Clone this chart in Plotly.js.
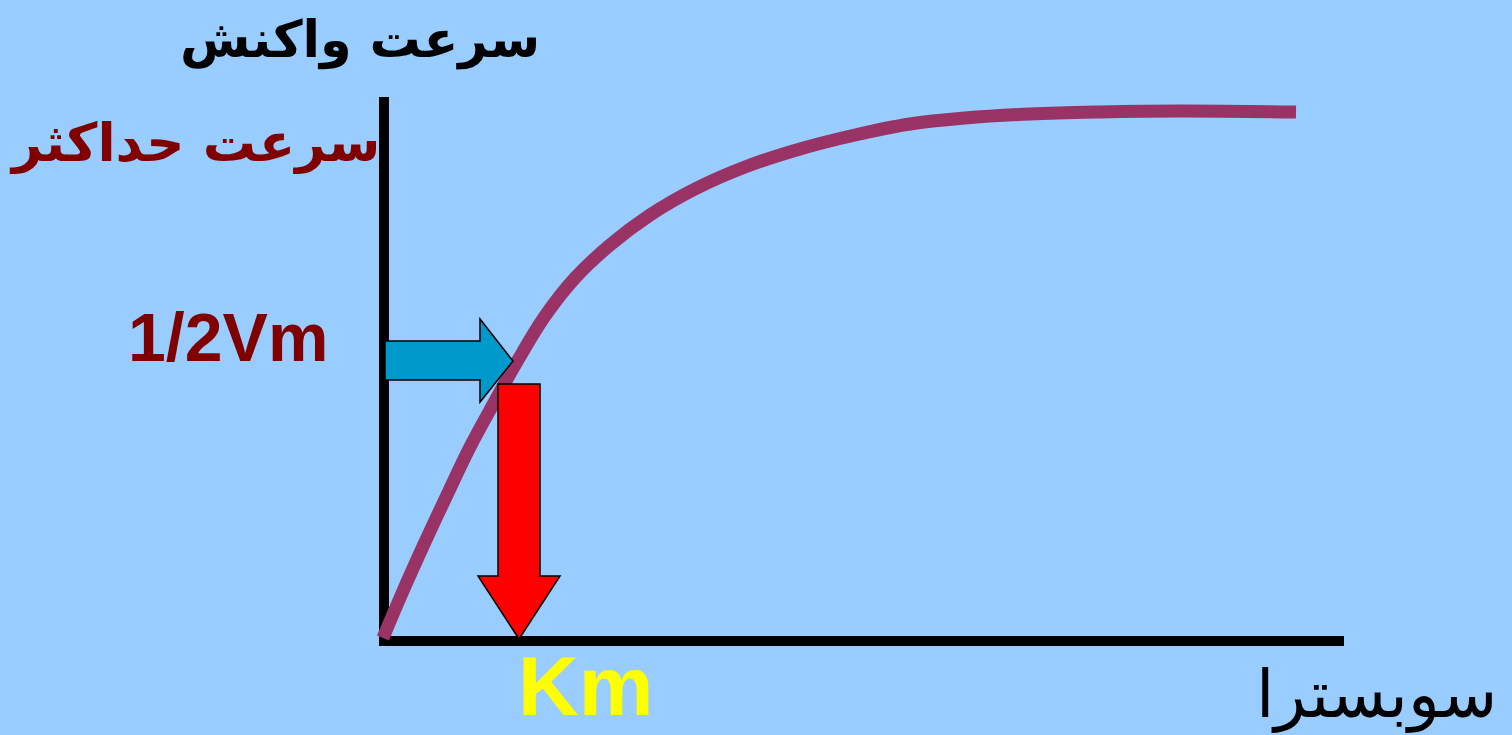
<!DOCTYPE html>
<html>
<head>
<meta charset="utf-8">
<script src="https://cdn.plot.ly/plotly-3.0.1.min.js"></script>
<style>
html,body{margin:0;padding:0;background:#99ccff;overflow:hidden;}
#chart{width:1512px;height:735px;}
</style>
</head>
<body>
<div id="chart"></div>
<script>
// Substrate concentration (arbitrary units) and reaction velocity (arbitrary units)
const substrate = [0, 2.0, 4.2, 6.4, 8.7, 11.2, 13.5, 16.2, 19.2, 22.7, 26.7, 31.2, 36.2, 41.7, 47.2, 52.7, 58.2, 64.7, 71.7, 79.7, 91.3];
const velocity  = [0.6, 10.0, 19.8, 29.2, 38.8, 48.0, 56.2, 65.0, 72.6, 79.2, 85.2, 90.4, 94.8, 98.4, 101.2, 103.4, 104.6, 105.4, 105.8, 106.0, 105.8];
const halfVm = 56;     // half of maximum velocity
const Km = 13.6;       // substrate at half-maximum velocity
const labels = {
  yTitle: 'سرعت واکنش',
  vmax: 'سرعت حداکثر',
  half: '1/2Vm',
  km: 'Km',
  xTitle: 'سوبسترا'
};

const xMax = 96.1, yMax = 108.8;

const curve = {
  x: substrate, y: velocity, type: 'scatter', mode: 'lines',
  line: {color: '#993366', width: 13, shape: 'spline', smoothing: 1.1, simplify: false},
  hoverinfo: 'skip', showlegend: false
};

// blue arrow (pointing right at half Vm)
const bTip = Km - 0.6;
const bPath = `M 0.2 ${halfVm+4} L ${bTip-3.3} ${halfVm+4} L ${bTip-3.3} ${halfVm+8.4} L ${bTip} ${halfVm} L ${bTip-3.3} ${halfVm-8.2} L ${bTip-3.3} ${halfVm-3.8} L 0.2 ${halfVm-3.8} Z`;
// red arrow (pointing down to Km)
const rTop = halfVm - 4.6;
const rPath = `M ${Km-2.1} ${rTop} L ${Km+2.1} ${rTop} L ${Km+2.1} 13 L ${Km+4.1} 13 L ${Km} 0.4 L ${Km-4.1} 13 L ${Km-2.1} 13 Z`;

const shapes = [
  {type:'rect', xref:'x', yref:'y', x0:-0.4, x1:0.6, y0:-1, y1:yMax, fillcolor:'#000', line:{width:0}, layer:'below'},
  {type:'rect', xref:'x', yref:'y', x0:-0.4, x1:xMax, y0:-1, y1:1, fillcolor:'#000', line:{width:0}, layer:'below'},
  {type:'path', xref:'x', yref:'y', path: bPath, fillcolor:'#0099cc', line:{color:'#000', width:1.5}, layer:'above'},
  {type:'path', xref:'x', yref:'y', path: rPath, fillcolor:'#ff0000', line:{color:'#000', width:1.5}, layer:'above'}
];

const arFont = 'DejaVu Sans, Noto Sans, sans-serif';
const annotations = [
  {x:-2.3, y:120.2, text:'<b>'+labels.yTitle+'</b>', showarrow:false, font:{family:arFont, size:51, color:'#000'}},
  {x:-18.9, y:99.6, text:'<b>'+labels.vmax+'</b>', showarrow:false, font:{family:arFont, size:53, color:'#800000'}},
  {x:-15.5, y:60.8, text:'<b>'+labels.half+'</b>', showarrow:false, font:{family:'Liberation Sans, Arial, sans-serif', size:68, color:'#800000'}},
  {x:20.2, y:-18.8, yanchor:'bottom', text:'<b>'+labels.km+'</b>', showarrow:false, font:{family:'Liberation Sans, Arial, sans-serif', size:84, color:'#ffff00'}},
  {x:99.3, y:-18.8, yanchor:'bottom', text:labels.xTitle, showarrow:false, font:{family:arFont, size:66, color:'#000'}}
];

const layout = {
  width:1512, height:735,
  margin:{l:0, r:0, t:0, b:0},
  paper_bgcolor:'#99ccff', plot_bgcolor:'#99ccff',
  xaxis:{range:[-38.3, 112.9], showgrid:false, zeroline:false, showticklabels:false, showline:false, ticks:'', fixedrange:true},
  yaxis:{range:[-18.8, 128.2], showgrid:false, zeroline:false, showticklabels:false, showline:false, ticks:'', fixedrange:true},
  shapes: shapes,
  annotations: annotations,
  showlegend:false
};

Plotly.newPlot('chart', [curve], layout, {displayModeBar:false, staticPlot:true});
</script>
</body>
</html>
